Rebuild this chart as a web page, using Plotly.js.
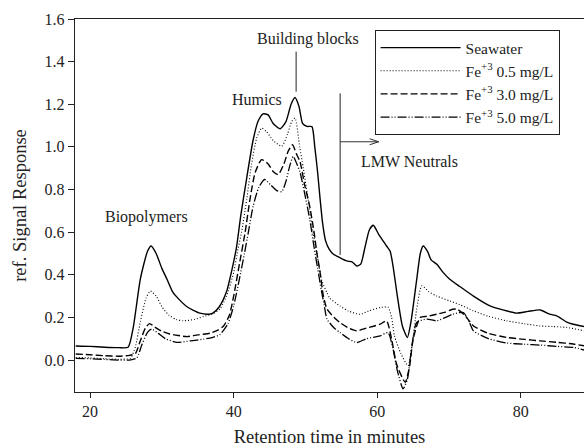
<!DOCTYPE html>
<html>
<head>
<meta charset="utf-8">
<script src="https://cdn.plot.ly/plotly-3.0.1.min.js"></script>
<style>html,body{margin:0;padding:0;background:#fff;}#chart{width:584px;height:448px;}</style>
</head>
<body>
<div id="chart"></div>
<script>
// Series names
var seriesNames = ["Seawater", "Fe<sup>+3</sup> 0.5 mg/L", "Fe<sup>+3</sup> 3.0 mg/L", "Fe<sup>+3</sup> 5.0 mg/L"];

// Seawater
var xSea = [18,20,22,24,25.3,26,27,28,28.5,29.2,30,30.7,31.5,32.1,33.5,35.3,36.5,37.1,38,39,39.8,40.4,41,41.8,42.7,43.4,44.1,44.8,45.5,46.5,47.3,48,48.55,49.1,49.6,50.2,50.9,51.3,51.7,52.0,52.4,52.8,53.3,53.9,54.8,55.75,56.5,57.15,57.7,58.3,58.9,59.45,60.2,61.3,61.8,62.2,62.8,63.5,64.2,64.7,65.5,66.0,66.4,67.0,67.5,68.3,69.2,70.1,71.5,73.4,75.7,77.5,79.4,81,82.7,84,85,86.4,87.3,88.8];
var ySea = [0.066,0.064,0.060,0.058,0.060,0.15,0.38,0.51,0.535,0.50,0.43,0.38,0.32,0.295,0.25,0.22,0.215,0.22,0.25,0.32,0.43,0.53,0.68,0.85,1.03,1.12,1.155,1.15,1.11,1.085,1.12,1.20,1.232,1.19,1.11,1.096,1.095,1.0,0.88,0.77,0.64,0.56,0.52,0.496,0.48,0.465,0.46,0.441,0.45,0.53,0.61,0.632,0.59,0.535,0.51,0.441,0.30,0.16,0.106,0.18,0.379,0.50,0.535,0.51,0.47,0.449,0.41,0.379,0.345,0.30,0.254,0.235,0.22,0.228,0.235,0.215,0.207,0.178,0.168,0.157];

// Fe+3 0.5 mg/L
var xFe05 = [18,20,22,24,25.6,26.3,27,27.8,28.4,29.2,30,31,32,33,34.5,35.8,37,38.1,39,40,40.6,41.1,41.8,42.5,43.2,43.9,44.6,45.5,46.7,47.5,48.1,48.55,49.2,49.7,50.4,51.1,51.7,52.3,53.0,53.4,54.8,56,57.6,58.8,60.4,61.5,62.0,62.4,63.3,64.3,64.9,65.5,66.2,67.2,68.3,70.1,71.5,73.4,75.5,78.0,80.5,82.7,84.5,86.4,88.8];
var yFe05 = [0.012,0.010,0.006,0.004,0.008,0.06,0.18,0.29,0.324,0.30,0.25,0.21,0.19,0.184,0.19,0.204,0.215,0.24,0.30,0.41,0.52,0.60,0.75,0.92,1.04,1.088,1.07,1.03,1.003,1.06,1.12,1.135,1.0,0.90,0.75,0.59,0.48,0.37,0.316,0.29,0.254,0.23,0.215,0.23,0.246,0.248,0.20,0.113,0.03,-0.027,0.08,0.239,0.348,0.32,0.30,0.277,0.26,0.231,0.205,0.184,0.17,0.16,0.157,0.153,0.137];

// Fe+3 3.0 mg/L
var xFe30 = [18,20,22,24,25.5,26.3,27,27.7,28.3,29,30,31.1,32.3,33.5,35,36.7,37.8,38.6,39.4,40.0,40.8,41.6,42.3,43.0,43.9,44.8,45.5,46.2,47.0,47.6,48.2,48.7,49.25,49.9,50.6,51.2,51.6,52.0,52.5,53.0,54.0,54.8,56,57.15,58.5,60.4,61.3,62.0,62.7,63.9,64.5,65.0,66.0,67,68.3,69.5,70.5,71.1,72.2,73.4,75.5,78.0,80.5,82.7,85,87.3,88.8];
var yFe30 = [0.028,0.025,0.020,0.018,0.022,0.03,0.09,0.15,0.171,0.155,0.135,0.122,0.115,0.11,0.118,0.126,0.14,0.16,0.21,0.30,0.45,0.60,0.76,0.88,0.94,0.92,0.885,0.87,0.92,0.98,1.01,0.97,0.93,0.82,0.72,0.60,0.50,0.42,0.30,0.239,0.20,0.176,0.15,0.137,0.15,0.168,0.184,0.098,-0.02,-0.104,-0.03,0.098,0.20,0.205,0.215,0.225,0.238,0.239,0.21,0.16,0.125,0.106,0.097,0.09,0.083,0.075,0.067];

// Fe+3 5.0 mg/L
var xFe50 = [18,20,22,24,25.5,26.5,27.2,28,28.6,29.5,30.5,32.1,34,35.8,37,38.1,39.2,40.0,40.8,41.5,42.05,42.7,43.5,44.3,45.2,46.0,46.7,47.3,47.8,48.3,48.8,49.25,49.9,50.6,51.2,51.7,52.2,52.6,53.0,54.0,54.8,56,57.15,58.5,60.4,61.5,62.2,62.8,63.6,64.2,64.8,65.5,66.9,68.3,69.5,70.5,72.0,72.8,73.4,75.5,78.0,80.5,82.7,85,87.3,88.8];
var yFe50 = [0.008,0.006,0.003,0.0,0.0,0.01,0.07,0.13,0.145,0.125,0.10,0.083,0.09,0.098,0.105,0.12,0.17,0.254,0.38,0.50,0.60,0.72,0.81,0.847,0.82,0.795,0.79,0.84,0.91,0.955,0.92,0.88,0.78,0.66,0.53,0.43,0.33,0.26,0.192,0.15,0.129,0.10,0.082,0.10,0.113,0.129,0.051,-0.05,-0.135,-0.09,0.06,0.176,0.192,0.184,0.20,0.215,0.223,0.18,0.137,0.10,0.08,0.074,0.07,0.064,0.059,0.047];

// Axis ticks
var xTicks = [20, 40, 60, 80];
var yTicks = [0.0, 0.2, 0.4, 0.6, 0.8, 1.0, 1.2, 1.4, 1.6];
var yTickLabels = ["0.0", "0.2", "0.4", "0.6", "0.8", "1.0", "1.2", "1.4", "1.6"];

var FONT = "Liberation Serif, Times New Roman, serif";
var dashes = ["solid", "1px,2px", "7px,3px", "9px,2px,1px,2px,1px,2px"];
var xs = [xSea, xFe05, xFe30, xFe50];
var ys = [ySea, yFe05, yFe30, yFe50];
var widths = [1.4, 1.1, 1.4, 1.3];

var traces = seriesNames.map(function (n, i) {
  return {
    x: xs[i], y: ys[i], name: n, type: "scatter", mode: "lines",
    line: {color: "#000", width: widths[i], dash: dashes[i], shape: "spline", smoothing: 0.6}
  };
});

var layout = {
  width: 584, height: 448,
  margin: {l: 75, r: 0, t: 19, b: 56},
  paper_bgcolor: "#fff", plot_bgcolor: "#fff",
  font: {family: FONT, size: 16, color: "#222"},
  showlegend: true,
  legend: {
    x: 0.952, y: 0.9705, xanchor: "right", yanchor: "top",
    bordercolor: "#222", borderwidth: 1, bgcolor: "#fff",
    font: {family: FONT, size: 15.5, color: "#222"},
    itemwidth: 80, tracegroupgap: 0
  },
  xaxis: {
    range: [17.9, 88.8], tickvals: xTicks, ticktext: xTicks.map(String),
    showgrid: false, zeroline: false, showline: true, mirror: true,
    linecolor: "#222", linewidth: 1.2, ticks: "outside", ticklen: 5, tickcolor: "#222",
    tickfont: {family: FONT, size: 16, color: "#222"},
    title: {text: "Retention time in minutes", font: {family: FONT, size: 18.5, color: "#222"}, standoff: 10}
  },
  yaxis: {
    range: [-0.15, 1.6], tickvals: yTicks, ticktext: yTickLabels,
    showgrid: false, zeroline: false, showline: true,
    linecolor: "#222", linewidth: 1.2, ticks: "outside", ticklen: 6, tickcolor: "#222",
    tickfont: {family: FONT, size: 16, color: "#222"},
    title: {text: "ref. Signal Response", font: {family: FONT, size: 18.5, color: "#222"}, standoff: 13}
  },
  annotations: [
    {x: 27.8, y: 0.671, xref: "x", yref: "y", text: "Biopolymers", showarrow: false, font: {family: FONT, size: 16, color: "#222"}},
    {x: 43.2, y: 1.22, xref: "x", yref: "y", text: "Humics", showarrow: false, font: {family: FONT, size: 16, color: "#222"}},
    {x: 50.4, y: 1.505, xref: "x", yref: "y", text: "Building blocks", showarrow: false, font: {family: FONT, size: 16, color: "#222"}},
    {x: 64.45, y: 0.93, xref: "x", yref: "y", text: "LMW Neutrals", showarrow: false, font: {family: FONT, size: 16, color: "#222"}}
  ],
  shapes: [
    {type: "line", xref: "x", yref: "y", x0: 48.7, x1: 48.7, y0: 1.447, y1: 1.259, line: {color: "#222", width: 1}},
    {type: "line", xref: "x", yref: "y", x0: 54.83, x1: 54.83, y0: 1.251, y1: 0.493, line: {color: "#222", width: 1}},
    {type: "line", xref: "x", yref: "y", x0: 54.83, x1: 60.2, y0: 1.024, y1: 1.024, line: {color: "#333", width: 1}},
    {type: "path", xref: "x", yref: "y", xsizemode: "pixel", ysizemode: "pixel", xanchor: 60.2, yanchor: 1.024,
     path: "M-9,3 L0,0 L-9,-3", line: {color: "#333", width: 1}}
  ]
};

Plotly.newPlot("chart", traces, layout, {displayModeBar: false, staticPlot: true});
</script>
</body>
</html>
